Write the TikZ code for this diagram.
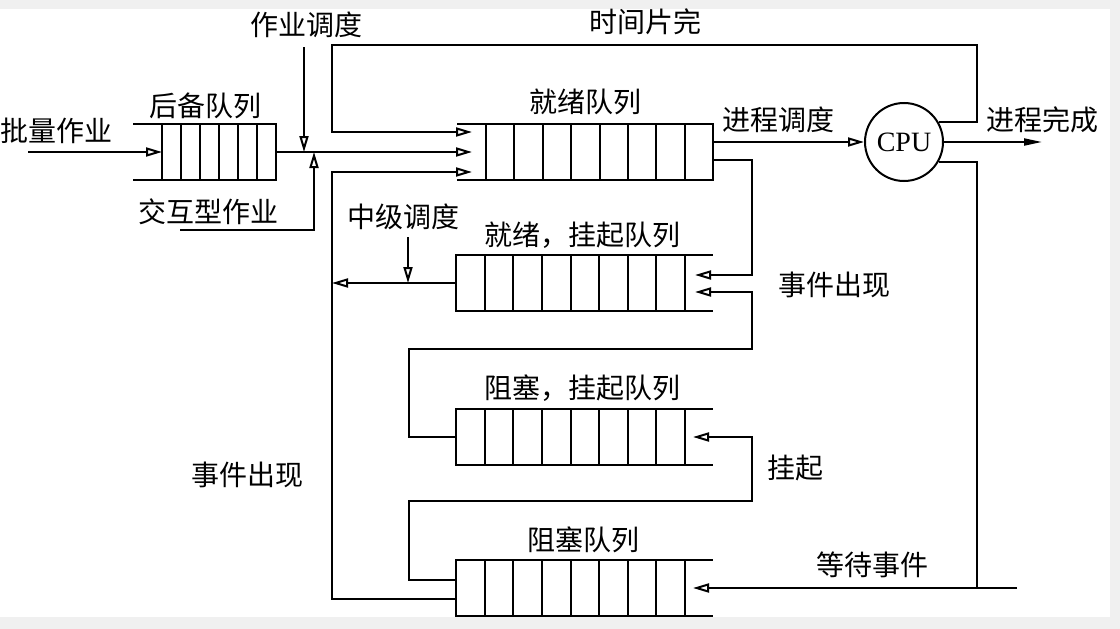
\documentclass[tikz,border=0pt]{standalone}
\usepackage{fontspec}
\setmainfont{Liberation Serif}
\newfontfamily\cjk{Noto Sans CJK SC}
\usetikzlibrary{positioning, arrows.meta, calc}
\tikzset{
    queue/.style={
        rectangle, draw, inner sep=0pt, outer sep=0pt,
        minimum height=56pt
    },
    proc/.style={
        circle, draw, minimum size=78pt, inner sep=0pt,
        font=\fontsize{28}{30}\selectfont
    },
    lbl/.style={
        inner sep=0pt, font=\cjk\fontsize{28}{30}\selectfont
    },
    mm/.style={
        -{Triangle[open, length=16pt, width=9pt]}
    },
    ff/.style={
        -{Triangle[length=18pt, width=7pt]}
    }
}

\begin{document}
\begin{tikzpicture}[x=1pt, y=-1pt, line width=2pt]
        \useasboundingbox (0,0) rectangle (1120,629);
        \fill[black!6] (0,0) rectangle (1120,629);
        \fill[white] (0,9) rectangle (1110,617);

        % Queues

        \node[queue, minimum width=114pt] (backup)    at (219,152)   {};
        \node[queue, minimum width=227pt] (ready)     at (599.5,152) {};
        \node[queue, minimum width=229pt] (readysusp) at (570.5,283) {};
        \node[queue, minimum width=229pt] (blocksusp) at (570.5,437) {};
        \node[queue, minimum width=229pt] (blocked)   at (570.5,588) {};

        \foreach \q/\n/\m in {backup/6/5, ready/8/7, readysusp/8/7, blocksusp/8/7, blocked/8/7}
            \foreach \i in {1,...,\m}
                \draw ($(\q.north west)!\i/\n!(\q.north east)$) -- ($(\q.south west)!\i/\n!(\q.south east)$);

        \draw (backup.north west) -- ++(-29,0) (backup.south west) -- ++(-29,0);
        \draw (ready.north west) -- ++(-29,0) (ready.south west) -- ++(-29,0);
        \foreach \q in {readysusp, blocksusp, blocked}
            \draw (\q.north east) -- ++(28,0) (\q.south east) -- ++(28,0);

        \node[proc] (cpu) at (904,142) {CPU};

        % Labels

        \node[lbl] (batch)      at (57,131)  {批量作业};
        \node[lbl] (backuplbl)  at (205,106) {后备队列};
        \node[lbl] (inter)      at (208,212) {交互型作业};
        \node[lbl] (jobsch)     at (306,25)  {作业调度};
        \node[lbl] (slice)      at (645,22)  {时间片完};
        \node[lbl] (readylbl)   at (585,102) {就绪队列};
        \node[lbl] (procsch)    at (778,120) {进程调度};
        \node[lbl] (done)       at (1042,120) {进程完成};
        \node[lbl] (midsch)     at (403,217) {中级调度};
        \node[lbl] (rslbl)      at (582,235) {就绪，挂起队列};
        \node[lbl] (eventr)     at (834,285) {事件出现};
        \node[lbl] (bslbl)      at (582,388) {阻塞，挂起队列};
        \node[lbl] (suspend)    at (795,468) {挂起};
        \node[lbl] (eventl)     at (247,475) {事件出现};
        \node[lbl] (blockedlbl) at (583,540) {阻塞队列};
        \node[lbl] (wait)       at (872,565) {等待事件};

        % Helper points

        \coordinate (rin1)    at ($(ready.west)+(-14,-20)$);
        \coordinate (rin2)    at ($(ready.west)+(-14,0)$);
        \coordinate (rin3)    at ($(ready.west)+(-14,20)$);
        \coordinate (rsin1)   at ($(readysusp.east)+(10,-8)$);
        \coordinate (rsin2)   at ($(readysusp.east)+(10,9)$);
        \coordinate (bsin)    at ($(blocksusp.east)+(8,0)$);
        \coordinate (bin)     at ($(blocked.east)+(8,0)$);
        \coordinate (batchin) at (28,152);
        \coordinate (jobtop)  at (304,47);
        \coordinate (jobpt)   at (304,152);
        \coordinate (intin)   at (180,230);
        \coordinate (intpt)   at (314,152);
        \coordinate (slicer)  at (977,45);
        \coordinate (doneout) at (1042,142);
        \coordinate (waitr)   at (1017,588);
        \coordinate (waitj)   at (977,588);
        \coordinate (midtop)  at (408,237);
        \coordinate (fbus)    at (332,0);
        \coordinate (lbus)    at (409,0);
        \coordinate (rbus)    at (752,0);
        \coordinate (evtrow)  at (0,349);
        \coordinate (susrow)  at (0,501);

        % Job scheduling

        \path (batchin) edge[mm] (backup)
                (backup) edge[mm] (rin2)
                (jobtop) edge[mm] (jobpt);
        \draw[mm] (intin) -| (intpt);

        % Process scheduling and CPU

        \draw[mm] (ready.east |- cpu) -- (cpu);
        \draw[ff] (cpu) -- (doneout);
        \draw[mm] (cpu.30) -| (slicer) -- (fbus |- slicer) |- (rin1);
        \draw (cpu.-30) -| (waitj);
        \draw[mm] (waitr) -- (bin);

        % Suspend and activate

        \draw[mm] ($(ready.east)+(0,8)$) -| (rbus |- rsin1) -- (rsin1);
        \draw[mm] (blocksusp.west) -| (lbus |- evtrow) -| (rbus |- rsin2) -- (rsin2);
        \draw[mm] ($(blocked.west)+(0,-8)$) -| (lbus |- susrow) -| (rbus |- bsin) -- (bsin);
        \draw[mm] ($(blocked.west)+(0,11)$) -| (fbus |- rin3) -- (rin3);
        \draw[mm] (readysusp) -- (fbus |- readysusp);
        \draw[mm] (midtop) -- (midtop |- readysusp);
    \end{tikzpicture}
\end{document}
